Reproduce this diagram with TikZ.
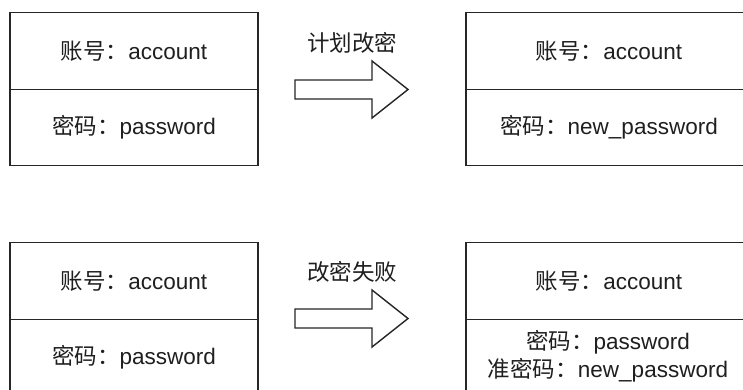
\documentclass[tikz,border=0pt]{standalone}
\usepackage{fontspec}
\setmainfont{Liberation Sans}
\newfontfamily\cjk{Noto Sans CJK SC}
\begin{document}
\begin{tikzpicture}[x=1pt,y=-1pt,
  cell/.style={draw=black!85, line width=1.4pt, minimum height=76.5pt, inner sep=0pt, anchor=center,
    font=\fontsize{22.5}{28}\selectfont, text=black!88},
  lbl/.style={font=\fontsize{22.5}{24}\selectfont, text=black!88, inner sep=0pt},
  bigarrow/.style={draw=black!85, line width=1.4pt, fill=white, line join=miter}]
\useasboundingbox (0,0) rectangle (743,390);
\fill[white] (0,0) rectangle (743,390);
\clip (0,0) rectangle (743,390);
% top-left box
\node[cell, minimum width=248pt] (a1) at (134,51) {{\cjk 账号：}account};
\node[cell, minimum width=248pt] (a2) at (134,127.5) {{\cjk 密码：}password};
% top-right box
\node[cell, minimum width=286pt] (b1) at (609,51) {{\cjk 账号：}account};
\node[cell, minimum width=286pt] (b2) at (609,127.5) {{\cjk 密码：}new\_password};
% bottom-left box
\node[cell, minimum width=248pt] (c1) at (134,281) {{\cjk 账号：}account};
\node[cell, minimum width=248pt] (c2) at (134,357.5) {{\cjk 密码：}password};
% bottom-right box
\node[cell, minimum width=286pt] (d1) at (609,281) {{\cjk 账号：}account};
\node[cell, minimum width=286pt] (d2) at (609,357.5) {};
\node[lbl] (d2a) at (608,342) {{\cjk 密码：}password};
\node[lbl] (d2b) at (608,370) {{\cjk 准密码：}new\_password};
% arrows
\draw[bigarrow] (295,80) -- (372,80) -- (372,61) -- (408,89.5) -- (372,118) -- (372,99) -- (295,99) -- cycle;
\node[lbl] (t1) at (352,43) {\cjk 计划改密};
\draw[bigarrow] (295,309) -- (372,309) -- (372,290) -- (408,318.5) -- (372,347) -- (372,328) -- (295,328) -- cycle;
\node[lbl] (t2) at (352,272) {\cjk 改密失败};
\end{tikzpicture}
\end{document}
